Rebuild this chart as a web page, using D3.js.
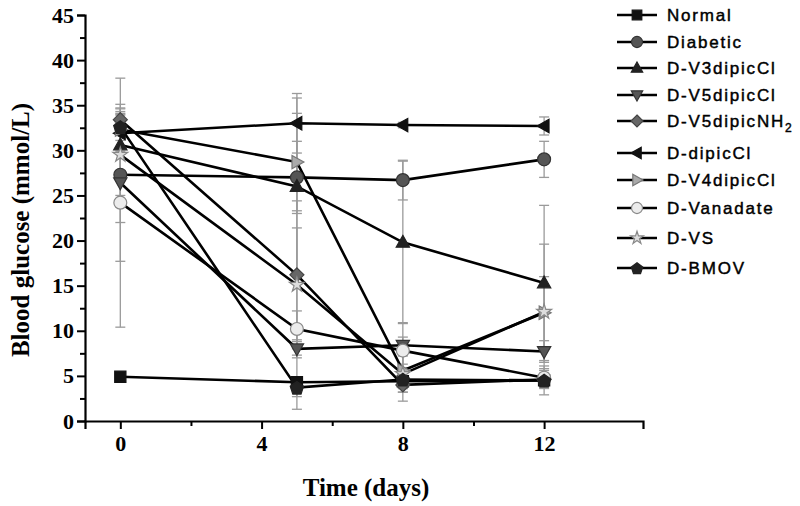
<!DOCTYPE html>
<html><head><meta charset="utf-8">
<script src="https://cdn.jsdelivr.net/npm/d3@7"></script>
<style>body{margin:0;background:#fff}svg{display:block}</style>
</head><body>
<svg id="c" width="800" height="506"></svg>
<script>
const days = [0, 5, 8, 12];
const seriesNames = ["Normal","Diabetic","D-V3dipicCl","D-V5dipicCl","D-V5dipicNH2","D-dipicCl","D-V4dipicCl","D-Vanadate","D-VS","D-BMOV"];
const normal   = [4.9, 4.3, 4.4, 4.5];
const diabetic = [27.3, 27.0, 26.7, 29.0];
const v3dipic  = [30.6, 26.0, 19.8, 15.3];
const v5dipic  = [26.4, 8.0, 8.4, 7.7];
const v5nh2    = [33.4, 16.2, 4.0, 4.6];
const dipicCl  = [31.9, 33.0, 32.8, 32.7];
const v4dipic  = [32.3, 28.7, 5.6, 12.0];
const vanadate = [24.2, 10.2, 7.8, 4.8];
const vs       = [29.5, 15.1, 5.2, 12.1];
const bmov     = [32.6, 3.7, 4.6, 4.5];
const normalErr   = [0.5, 3.0, 1.2, 1.6];
const diabeticErr = [5.3, 4.0, 2.2, 2.0];
const v3dipicErr  = [4.0, 9.8, 9.0, 8.6];
const v5dipicErr  = [8.7, 1.0, 2.5, 1.2];
const v5nh2Err    = [1.3, 8.2, 1.8, 1.0];
const dipicClErr  = [2.0, 3.3, 0.3, 1.0];
const v4dipicErr  = [2.0, 5.4, 2.0, 4.0];
const vanadateErr = [13.8, 2.0, 1.5, 1.0];
const vsErr       = [4.5, 6.3, 2.0, 7.5];
const bmovErr     = [1.5, 1.0, 1.0, 0.8];
const yTicks = [0,5,10,15,20,25,30,35,40,45];
const xTicks = [0,4,8,12];

const values = [normal,diabetic,v3dipic,v5dipic,v5nh2,dipicCl,v4dipic,vanadate,vs,bmov];
const errors = [normalErr,diabeticErr,v3dipicErr,v5dipicErr,v5nh2Err,dipicClErr,v4dipicErr,vanadateErr,vsErr,bmovErr];
const shapes = ["square","circle","triUp","triDown","diamond","triLeft","triRight","circle","star","pentagon"];
const fills  = ["#111","#555","#222","#555","#666","#111","#aaa","#ececec","#ddd","#222"];
const strokes= ["#111","#333","#222","#333","#444","#111","#777","#888","#888","#222"];

const svg = d3.select("#c");
const x = d3.scaleLinear().domain([-1, 14.8]).range([85, 643]);
const y = d3.scaleLinear().domain([0, 45]).range([421, 15]);

function shapePath(s, r){
  const p = d3.path();
  const poly = (pts)=>{pts.forEach((q,i)=> i? p.lineTo(q[0],q[1]) : p.moveTo(q[0],q[1])); p.closePath(); return p.toString();};
  const h = r*0.95;
  switch(s){
    case "square": return poly([[-r*0.8,-r*0.8],[r*0.8,-r*0.8],[r*0.8,r*0.8],[-r*0.8,r*0.8]]);
    case "circle": return d3.symbol(d3.symbolCircle, Math.PI*r*r*0.85)();
    case "triUp": return poly([[0,-r],[r*0.95,r*0.7],[-r*0.95,r*0.7]]);
    case "triDown": return poly([[0,r],[r*0.95,-r*0.7],[-r*0.95,-r*0.7]]);
    case "triLeft": return poly([[-r,0],[r*0.7,-h],[r*0.7,h]]);
    case "triRight": return poly([[r,0],[-r*0.7,-h],[-r*0.7,h]]);
    case "diamond": return poly([[0,-r],[r,0],[0,r],[-r,0]]);
    case "star": return d3.symbol(d3.symbolStar, r*r*1.4)();
    case "pentagon": {
      const pts=[]; for(let i=0;i<5;i++){const a=-Math.PI/2+i*2*Math.PI/5; pts.push([r*Math.cos(a), r*Math.sin(a)+0.8]);} return poly(pts);
    }
  }
}

// Axes
const serif = "'Liberation Serif','Times New Roman',serif";
const yAxis = svg.append("g").attr("transform","translate(85,0)")
  .call(d3.axisLeft(y).tickValues(yTicks).tickSize(8).tickPadding(3));
const yMinor = svg.append("g").attr("transform","translate(85,0)")
  .call(d3.axisLeft(y).tickValues(d3.range(2.5,45,5)).tickSize(5).tickFormat(""));
const xAxis = svg.append("g").attr("transform","translate(0,421)")
  .call(d3.axisBottom(x).tickValues(xTicks).tickSize(8).tickPadding(6));
const xMinor = svg.append("g").attr("transform","translate(0,421)")
  .call(d3.axisBottom(x).tickValues([2,6,10]).tickSize(5).tickFormat(""));
[yAxis,yMinor,xAxis,xMinor].forEach(g=>{
  g.selectAll("path.domain").attr("stroke","#000").attr("stroke-width",2.2);
  g.selectAll(".tick line").attr("stroke","#000").attr("stroke-width",2);
  g.selectAll("text").attr("font-family",serif).attr("font-weight","bold").attr("font-size",22).attr("fill","#000");
});
yMinor.select("path.domain").remove();
xMinor.select("path.domain").remove();

svg.append("text").attr("transform","translate(29,230) rotate(-90)")
  .attr("text-anchor","middle").attr("font-family",serif).attr("font-weight","bold")
  .attr("font-size",25).text("Blood glucose (mmol/L)");
svg.append("text").attr("x",366).attr("y",496)
  .attr("text-anchor","middle").attr("font-family",serif).attr("font-weight","bold")
  .attr("font-size",25).text("Time (days)");

// Error bars
const eb = svg.append("g").attr("stroke","#9a9a9a").attr("stroke-width",1.3);
values.forEach((vals,si)=>{
  vals.forEach((v,i)=>{
    const e = errors[si][i], cx = x(days[i]);
    eb.append("line").attr("x1",cx).attr("x2",cx).attr("y1",y(v+e)).attr("y2",y(v-e));
    [v+e, v-e].forEach(t=> eb.append("line").attr("x1",cx-5).attr("x2",cx+5).attr("y1",y(t)).attr("y2",y(t)));
  });
});

// Lines
const line = d3.line().x((d,i)=>x(days[i])).y(d=>y(d));
const lg = svg.append("g");
values.forEach(vals=>{
  lg.append("path").attr("d",line(vals)).attr("fill","none").attr("stroke","#000").attr("stroke-width",2.6);
});

// Markers
const mg = svg.append("g");
values.forEach((vals,si)=>{
  vals.forEach((v,i)=>{
    mg.append("path").attr("d",shapePath(shapes[si],7))
      .attr("transform",`translate(${x(days[i])},${y(v)})`)
      .attr("fill",fills[si]).attr("stroke",strokes[si]).attr("stroke-width",1.2);
  });
});

// Legend
const legendY = [15,42,68,95,121,153,180,208,238,268];
const leg = svg.append("g");
seriesNames.forEach((name,si)=>{
  const ly = legendY[si];
  leg.append("line").attr("x1",617).attr("x2",657).attr("y1",ly).attr("y2",ly).attr("stroke","#000").attr("stroke-width",2.6);
  leg.append("path").attr("d",shapePath(shapes[si],6)).attr("transform",`translate(637,${ly})`)
    .attr("fill",fills[si]).attr("stroke",strokes[si]).attr("stroke-width",1.2);
  const t = leg.append("text").attr("x",667).attr("y",ly+6)
    .attr("font-family","'Liberation Sans',Arial,sans-serif").attr("font-size",17)
    .attr("letter-spacing",1.8).attr("fill","#000").attr("stroke","#000").attr("stroke-width",0.45);
  if(name.endsWith("NH2")){
    t.append("tspan").text(name.slice(0,-1));
    t.append("tspan").attr("font-size",12).attr("dy",5).text("2");
  } else t.text(name);
});
</script>
</body></html>
